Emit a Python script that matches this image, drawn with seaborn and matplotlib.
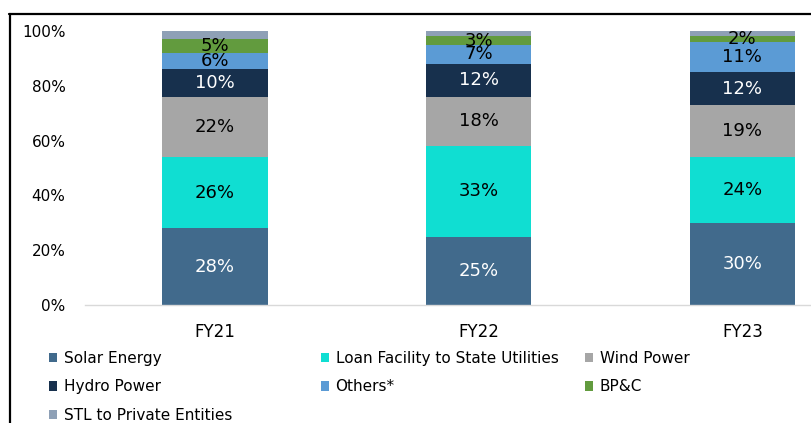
import matplotlib
matplotlib.use("Agg")
import matplotlib.pyplot as plt
from matplotlib.patches import Patch
from matplotlib.lines import Line2D
import numpy as np
import pandas as pd
import seaborn as sns

# Portfolio mix by segment, share of total (%)
years = ["FY21", "FY22", "FY23"]
segments = ["Solar Energy", "Loan Facility to State Utilities", "Wind Power",
            "Hydro Power", "Others*", "BP&C", "STL to Private Entities"]
solar = [28, 25, 30]
loan_state = [26, 33, 24]
wind = [22, 18, 19]
hydro = [10, 12, 12]
others = [6, 7, 11]
bpc = [5, 3, 2]
stl_private = [3, 2, 2]

values = [solar, loan_state, wind, hydro, others, bpc, stl_private]
colors = ["#416A8C", "#10DED2", "#A6A6A6", "#17304D", "#5B9BD5", "#629B3E", "#8EA0B6"]
label_colors = ["white", "black", "black", "white", "black", "black", None]

sns.set_theme(style="white")
plt.rcParams["font.family"] = ["DejaVu Sans"]
plt.rcParams["text.color"] = "black"

fig = plt.figure(figsize=(8.11, 4.23), dpi=100)
ax = fig.add_axes([85 / 811, 1 - 305 / 423, 1 - 85 / 811, (305 - 31) / 423])

bottom = np.zeros(len(years))
for seg, vals, col, lc in zip(segments, values, colors, label_colors):
    share = np.array(vals, dtype=float) / 100.0
    df = pd.DataFrame({"year": years, "share": share})
    sns.barplot(data=df, x="year", y="share", order=years, color=col,
                saturation=1, width=0.4, bottom=bottom, ax=ax,
                linewidth=0, errorbar=None)
    if lc is not None:
        ax.bar_label(ax.containers[-1], labels=[f"{v}%" for v in vals],
                     label_type="center", color=lc, fontsize=13)
    bottom = bottom + share

ax.set_xlim(-0.493, 2.26)
ax.set_ylim(0, 1.0)
ax.set_yticks(np.arange(0, 1.01, 0.2))
ax.set_yticklabels([f"{int(round(t * 100))}%" for t in np.arange(0, 1.01, 0.2)])
ax.set_xlabel("")
ax.set_ylabel("")
ax.tick_params(axis="y", length=0, pad=14, labelsize=11, labelcolor="black")
ax.tick_params(axis="x", length=0, pad=13, labelsize=12, labelcolor="black")
for side in ["top", "right", "left"]:
    ax.spines[side].set_visible(False)
ax.spines["bottom"].set_color("#D9D9D9")
ax.spines["bottom"].set_linewidth(1.0)
ax.grid(False)

# Legend laid out in three columns, filled row by row
handles = {s: Patch(facecolor=c, edgecolor="none") for s, c in zip(segments, colors)}
columns = [
    (49, ["Solar Energy", "Hydro Power", "STL to Private Entities"]),
    (321, ["Loan Facility to State Utilities", "Others*"]),
    (585, ["Wind Power", "BP&C"]),
]
for xpix, names in columns:
    fig.legend([handles[n] for n in names], names,
               loc="upper left", bbox_to_anchor=(xpix / 811, 1 - 351 / 423),
               frameon=False, fontsize=11, handlelength=0.55, handleheight=0.55,
               handletextpad=0.4, labelspacing=0.88, borderpad=0, borderaxespad=0,
               labelcolor="black")

# Outer frame lines (top and left)
fig.add_artist(Line2D([9 / 811, 1.0], [1 - 14 / 423, 1 - 14 / 423],
                      transform=fig.transFigure, color="black", linewidth=1.6))
fig.add_artist(Line2D([10 / 811, 10 / 811], [1 - 14 / 423, 0.0],
                      transform=fig.transFigure, color="black", linewidth=1.6))

fig.savefig("out.png", dpi=100)
